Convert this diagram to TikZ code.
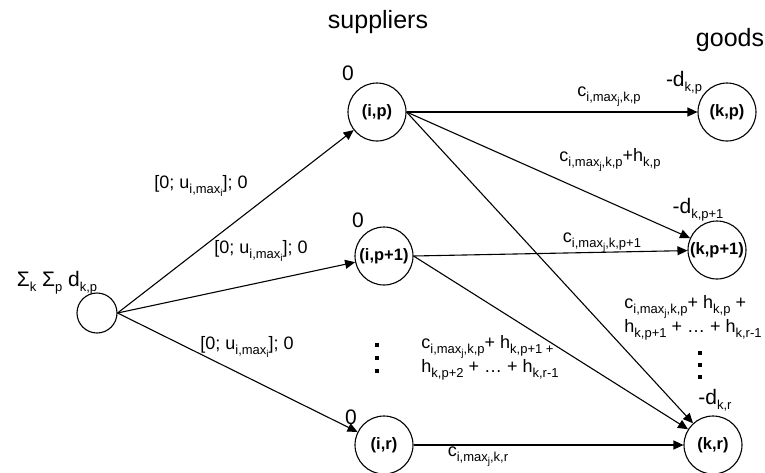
\documentclass[tikz,border=0pt]{standalone}
\usepackage{fontspec}
\setmainfont{Liberation Sans}
\usetikzlibrary{arrows.meta}
\newcommand\mysa[1]{\raisebox{-5pt}{\fontsize{13}{13}\selectfont #1}}
\newcommand\mysb[1]{\raisebox{-3pt}{\fontsize{10}{10}\selectfont #1}}
\tikzset{
  vtx/.style={circle, draw, line width=1.1pt, minimum size=58pt, inner sep=0pt,
    font=\bfseries\fontsize{16.5}{18}\selectfont},
  lbl/.style={inner sep=0pt, font=\fontsize{18}{21}\selectfont},
  big/.style={inner sep=0pt, font=\fontsize{21}{24}\selectfont},
  head/.style={inner sep=0pt, font=\fontsize{25}{28}\selectfont},
  dotsq/.style={fill, minimum size=4pt, inner sep=0pt},
  arr/.style={-{Triangle[length=10pt,width=9pt]}, line width=1.1pt}
}
\begin{document}
\begin{tikzpicture}[x=1pt,y=-1pt]
\useasboundingbox (0,0) rectangle (765,472);
% headings
\node[head] (hs) at (378,22) {suppliers};
\node[head] (hg) at (730,40) {goods};
% vertices
\node[vtx, minimum size=40pt] (s) at (97,313) {};
\node[vtx] (ip) at (377,112) {(i,p)};
\node[vtx] (ip1) at (384,256) {(i,p+1)};
\node[vtx] (ir) at (384,445) {(i,r)};
\node[vtx] (kp) at (727,112) {(k,p)};
\node[vtx] (kp1) at (717,250) {(k,p+1)};
\node[vtx] (kr) at (713,445) {(k,r)};
% node labels
\node[big] (ls) at (57,283) {Σ\mysa{k} Σ\mysa{p} d\mysa{k,p}};
\node[big] (l0a) at (348,73) {0};
\node[big] (l0b) at (358,220) {0};
\node[big] (l0c) at (351,417) {0};
\node[big] (ldkp) at (684,83) {-d\mysa{k,p}};
\node[big] (ldkp1) at (698,210) {-d\mysa{k,p+1}};
\node[big] (ldkr) at (715,400) {-d\mysa{k,r}};
% edges
\draw[arr] (s.east) -- (ip);
\draw[arr] (s.east) -- (ip1);
\draw[arr] (s.east) -- (ir);
\draw[arr] (ip.east) -- (kp);
\draw[arr] (ip.east) -- (kp1);
\draw[arr] (ip.east) -- (kr);
\draw[arr] (ip1.east) -- (kp1);
\draw[arr] (ip1.east) -- (kr);
\draw[arr] (ir) -- (kr);
% edge labels
\node[lbl] (e1) at (201,186) {[0; u\mysa{i,max\mysb{i}}]; 0};
\node[lbl] (e2) at (261,251) {[0; u\mysa{i,max\mysb{i}}]; 0};
\node[lbl] (e3) at (247,347) {[0; u\mysa{i,max\mysb{i}}]; 0};
\node[lbl] (e4) at (609,97) {c\mysa{i,max\mysb{j},k,p}};
\node[lbl] (e5) at (610,160) {c\mysa{i,max\mysb{j},k,p}+h\mysa{k,p}};
\node[lbl] (e6) at (602,243) {c\mysa{i,max\mysb{j},k,p+1}};
\node[lbl, align=left] (e7) at (693,318) {c\mysa{i,max\mysb{j},k,p}+ h\mysa{k,p} +\\h\mysa{k,p+1} + … + h\mysa{k,r-1}};
\node[lbl, align=left] (e8) at (490,358) {c\mysa{i,max\mysb{j},k,p}+ h\mysa{k,p+1 +}\\h\mysa{k,p+2} + … + h\mysa{k,r-1}};
\node[lbl] (e9) at (478,457) {c\mysa{i,max\mysb{j},k,r}};
% vertical dots
\node[dotsq] (dl1) at (377,345) {};
\node[dotsq] (dl2) at (377,358) {};
\node[dotsq] (dl3) at (377,371) {};
\node[dotsq] (dr1) at (700,353) {};
\node[dotsq] (dr2) at (700,365) {};
\node[dotsq] (dr3) at (700,377) {};
\end{tikzpicture}
\end{document}
